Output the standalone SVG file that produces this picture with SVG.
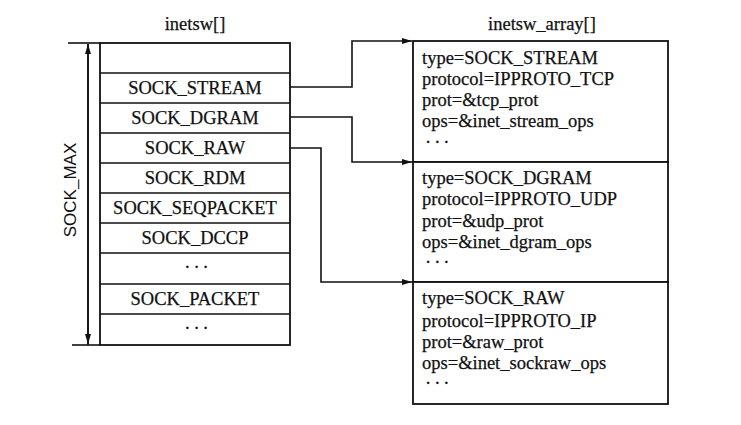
<svg xmlns="http://www.w3.org/2000/svg" width="741" height="425" viewBox="0 0 741 425">
<style>
.ln{stroke:#111;stroke-width:1.6;fill:none}
.bx{stroke:#111;stroke-width:1.8;fill:#fff}
.t{font-family:"Liberation Serif","Times New Roman",serif;font-size:18.5px;fill:#111;stroke:#111;stroke-width:0.25}
.c{text-anchor:middle}
.d{letter-spacing:3px}
.s{font-family:"Liberation Sans",Arial,sans-serif;font-size:17px;fill:#111}
</style>
<defs>
<marker id="ah" viewBox="0 0 10 6" refX="10" refY="3" markerWidth="10" markerHeight="6" markerUnits="userSpaceOnUse" orient="auto">
<path d="M0,0 L10,3 L0,6 Z" fill="#111"/>
</marker>
</defs>
<rect width="741" height="425" fill="#fff"/>
<text class="t c" x="195" y="30">inetsw[]</text>
<text class="t c" x="542" y="30">inetsw_array[]</text>
<g id="sockmax">
<line class="ln" x1="68" y1="43" x2="100" y2="43"/>
<line class="ln" x1="72" y1="345" x2="100" y2="345"/>
<line class="ln" x1="88" y1="345" x2="88" y2="44" marker-end="url(#ah)"/>
<line class="ln" x1="88" y1="44" x2="88" y2="344" marker-end="url(#ah)"/>
<text class="s c" transform="translate(76,190) rotate(-90)">SOCK_MAX</text>
</g>
<g id="inetsw">
<rect class="bx" x="100" y="43" width="190" height="302"/>
<line class="ln" x1="100" y1="73" x2="290" y2="73"/>
<line class="ln" x1="100" y1="103" x2="290" y2="103"/>
<line class="ln" x1="100" y1="133" x2="290" y2="133"/>
<line class="ln" x1="100" y1="163" x2="290" y2="163"/>
<line class="ln" x1="100" y1="193" x2="290" y2="193"/>
<line class="ln" x1="100" y1="223" x2="290" y2="223"/>
<line class="ln" x1="100" y1="253" x2="290" y2="253"/>
<line class="ln" x1="100" y1="284" x2="290" y2="284"/>
<line class="ln" x1="100" y1="314" x2="290" y2="314"/>
<text class="t c" x="195" y="94">SOCK_STREAM</text>
<text class="t c" x="195" y="124">SOCK_DGRAM</text>
<text class="t c" x="195" y="154">SOCK_RAW</text>
<text class="t c" x="195" y="184">SOCK_RDM</text>
<text class="t c" x="195" y="214">SOCK_SEQPACKET</text>
<text class="t c" x="195" y="244">SOCK_DCCP</text>
<text class="t c d" x="198" y="273">···</text>
<text class="t c" x="195" y="305">SOCK_PACKET</text>
<text class="t c d" x="198" y="334">···</text>
</g>
<g id="tcp">
<rect class="bx" x="413" y="41" width="255" height="121"/>
<text class="t" x="422" y="64">type=SOCK_STREAM</text>
<text class="t" x="422" y="85">protocol=IPPROTO_TCP</text>
<text class="t" x="422" y="106">prot=&amp;tcp_prot</text>
<text class="t" x="422" y="127">ops=&amp;inet_stream_ops</text>
<text class="t d" x="425" y="148">···</text>
</g>
<g id="udp">
<rect class="bx" x="413" y="162" width="255" height="120"/>
<text class="t" x="422" y="184">type=SOCK_DGRAM</text>
<text class="t" x="422" y="205">protocol=IPPROTO_UDP</text>
<text class="t" x="422" y="227">prot=&amp;udp_prot</text>
<text class="t" x="422" y="248">ops=&amp;inet_dgram_ops</text>
<text class="t d" x="425" y="268">···</text>
</g>
<g id="raw">
<rect class="bx" x="413" y="282" width="255" height="122"/>
<text class="t" x="422" y="304">type=SOCK_RAW</text>
<text class="t" x="422" y="327">protocol=IPPROTO_IP</text>
<text class="t" x="422" y="348">prot=&amp;raw_prot</text>
<text class="t" x="422" y="369">ops=&amp;inet_sockraw_ops</text>
<text class="t d" x="425" y="389">···</text>
</g>
<g id="connectors">
<polyline class="ln" points="290,87 352,87 352,41 412,41" marker-end="url(#ah)"/>
<polyline class="ln" points="290,117 352,117 352,162 412,162" marker-end="url(#ah)"/>
<polyline class="ln" points="290,148 321,148 321,282 412,282" marker-end="url(#ah)"/>
</g>
</svg>
